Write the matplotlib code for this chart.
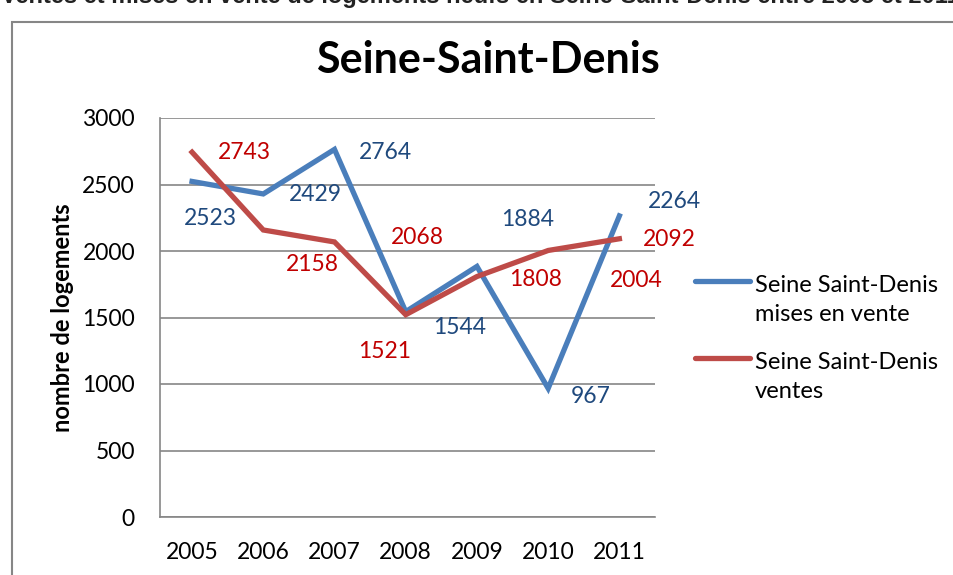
import matplotlib.pyplot as plt
from matplotlib.lines import Line2D

years = ["2005", "2006", "2007", "2008", "2009", "2010", "2011"]
mises_en_vente = [2523, 2429, 2764, 1544, 1884, 967, 2264]
ventes = [2743, 2158, 2068, 1521, 1808, 2004, 2092]
noms = ["Seine Saint-Denis\nmises en vente", "Seine Saint-Denis\nventes"]
couleurs = ["#4A7EBB", "#BE4B48"]

# label offsets in pixels (as placed in the original Excel chart)
off_bleu = [(18, -37), (52, -1), (51, -3), (54, -16), (51, 47), (43, -8), (55, 14)]
off_rouge = [(52, 0), (49, -35), (83, 4), (-21, -37), (59, -3), (88, -30), (50, -1)]

plt.rcParams["font.family"] = ["Lato", "DejaVu Sans"]

fig = plt.figure(figsize=(9.54, 5.75), dpi=100)
ax = fig.add_axes([160 / 954, 1 - 517 / 575, 495 / 954, 399 / 575])

x = range(len(years))
ax.plot(x, mises_en_vente, color=couleurs[0], lw=3.8, solid_joinstyle="miter", zorder=3)
ax.plot(x, ventes, color=couleurs[1], lw=3.8, solid_joinstyle="miter", zorder=3)

for i, v in enumerate(mises_en_vente):
    ax.annotate(str(v), (i, v), xytext=off_bleu[i], textcoords="offset pixels",
                ha="center", va="center", fontsize=16.5, color="#1F497D")
for i, v in enumerate(ventes):
    ax.annotate(str(v), (i, v), xytext=off_rouge[i], textcoords="offset pixels",
                ha="center", va="center", fontsize=16.5, color="#C00000")

ax.set_xlim(-0.45, 6.5)
ax.set_ylim(0, 3000)
ax.set_yticks(range(0, 3001, 500))
ax.set_xticks(list(x))
ax.set_xticklabels(years)
ax.tick_params(length=0, labelsize=16.5)
ax.tick_params(axis="x", pad=18)
ax.tick_params(axis="y", pad=18)
ax.grid(axis="y", color="#868686", lw=1.2)
ax.set_axisbelow(True)
for s in ["top", "right"]:
    ax.spines[s].set_visible(False)
for s in ["left", "bottom"]:
    ax.spines[s].set_color("#868686")
    ax.spines[s].set_linewidth(1.2)

ax.set_ylabel("nombre de logements", fontsize=17, fontweight="bold", labelpad=6)

fig.text(488 / 954, 1 - 60 / 575, "Seine-Saint-Denis", ha="center", va="center",
         fontsize=31, fontweight="bold")
fig.text(480 / 954, 1 - 3 / 575,
         "Ventes et mises en vente de logements neufs en Seine-Saint-Denis entre 2005 et 2011",
         ha="center", va="baseline", fontsize=17, fontweight="bold", color="#222222",
         family="Liberation Sans")

# legend drawn by hand so the line sits beside the first text line
for k, (nom, c) in enumerate(zip(noms, couleurs)):
    yl = 1 - (281 + 77 * k) / 575
    fig.add_artist(Line2D([695 / 954, 750 / 954], [yl, yl], color=c, lw=3.8,
                          solid_capstyle="round", transform=fig.transFigure))
    fig.text(755 / 954, yl + 6 / 575, nom, ha="left", va="top", fontsize=17,
             linespacing=1.45)

# outer chart frame
fig.patches.append(plt.Rectangle((12 / 954, -0.05), 1.0, 1 - 22 / 575 + 0.05,
                                 transform=fig.transFigure, fill=False,
                                 edgecolor="#868686", lw=1.5))

plt.savefig("out.png", dpi=100)
